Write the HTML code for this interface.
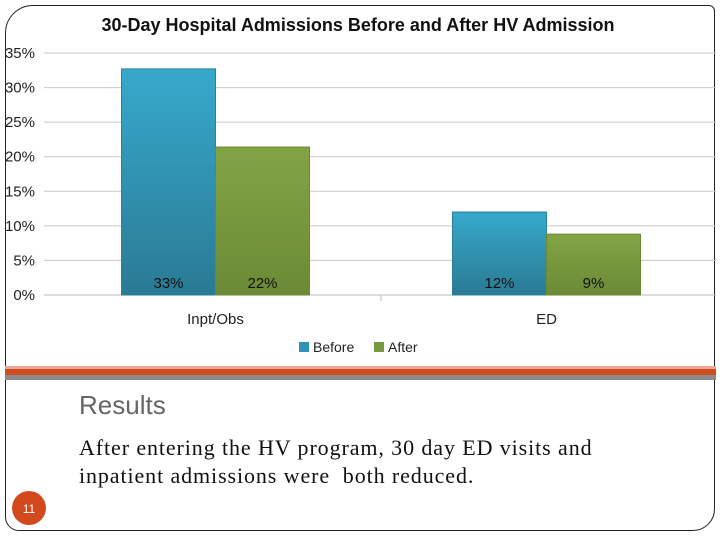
<!DOCTYPE html>
<html><head><meta charset="utf-8"><style>
body{margin:0;width:720px;height:540px;background:#fff;overflow:hidden;position:relative;font-family:"Liberation Sans",sans-serif}
.frame{position:absolute;left:5px;top:5px;width:710px;height:526px;border:1.5px solid #222;border-radius:28px 6px 22px 14px;box-sizing:border-box}
</style></head><body>
<div class="frame"></div>
<svg width="720" height="540" style="position:absolute;left:0;top:0">
<defs>
<linearGradient id="gb" x1="0" y1="0" x2="0" y2="1"><stop offset="0" stop-color="#37a9cc"/><stop offset="1" stop-color="#2a7a94"/></linearGradient>
<linearGradient id="gg" x1="0" y1="0" x2="0" y2="1"><stop offset="0" stop-color="#82a445"/><stop offset="1" stop-color="#6c8a36"/></linearGradient>
</defs>
<text x="358" y="31" text-anchor="middle" font-size="18" font-weight="bold" fill="#111">30-Day Hospital Admissions Before and After  HV Admission</text>
<g id="grid"></g><g id="bars"></g>
<g>
<rect x="299" y="342" width="10" height="10" fill="#2f93b4"/>
<text x="313" y="352" font-size="14" fill="#222">Before</text>
<rect x="374" y="342" width="10" height="10" fill="#77983e"/>
<text x="388" y="352" font-size="14" fill="#222">After</text>
</g>
<rect x="5" y="366" width="711" height="3" fill="#e8a99a"/>
<rect x="5" y="369" width="711" height="6" fill="#d24b1f"/>
<rect x="5" y="375" width="711" height="5" fill="#8a8a8a"/>
<circle cx="29" cy="508" r="17" fill="#d2491d"/>
<text x="29" y="513" text-anchor="middle" font-size="12" fill="#fff">11</text>
</svg>
<div style="position:absolute;left:79px;top:390px;font-size:26px;color:#666">Results</div>
<div style="position:absolute;left:79px;top:434px;font-family:'Liberation Serif',serif;font-size:22px;line-height:28px;color:#111;width:580px;letter-spacing:0.9px">After entering the HV program, 30 day ED visits and<br>inpatient admissions were&nbsp; both reduced.</div>
<script>
const categories=["Inpt/Obs","ED"];
const before=[32.7,12.0];
const after=[21.4,8.8];
const beforeLabels=["33%","12%"];
const afterLabels=["22%","9%"];
const ticks=[0,5,10,15,20,25,30,35];
const NS="http://www.w3.org/2000/svg";
const y0=295,pxPer=242/35,left=50,catW=331,barW=94;
const y=v=>y0-v*pxPer;
function mk(t,a,p){const e=document.createElementNS(NS,t);for(const k in a)e.setAttribute(k,a[k]);p.appendChild(e);return e;}
const grid=document.getElementById('grid'),bars=document.getElementById('bars');
ticks.forEach(t=>{
 const l=mk('line',{x1:44,x2:716,y1:y(t),y2:y(t),stroke:t===0?'#bbb':'#c8c8c8','stroke-width':1},grid);
 
 
 const tx=mk('text',{x:35,y:y(t)+5,'text-anchor':'end','font-size':15,fill:'#222'},grid);
 tx.textContent=t+'%';
 
 
});
const dv=mk('line',{x1:left+catW,x2:left+catW,y1:y0,y2:y0+6,stroke:'#bbb'},grid);


categories.forEach((c,i)=>{
 const cx=left+catW*i+catW/2;
 [[before,'url(#gb)','#2a7f99',beforeLabels,'before'],[after,'url(#gg)','#6a8836',afterLabels,'after']].forEach(([arr,fill,st,lab,nm],j)=>{
  const x=cx-barW+j*barW;
  const r=mk('rect',{x:x,y:y(arr[i]),width:barW,height:y0-y(arr[i]),fill:fill,stroke:st,'stroke-width':1},bars);
  
  
  const t=mk('text',{x:x+barW/2,y:y0-7,'text-anchor':'middle','font-size':15,fill:'#111'},bars);
  t.textContent=lab[i];
  
  
 });
 const ct=mk('text',{x:cx,y:324,'text-anchor':'middle','font-size':15,fill:'#222'},bars);
 ct.textContent=c;
 
 
});
</script>
</body></html>
